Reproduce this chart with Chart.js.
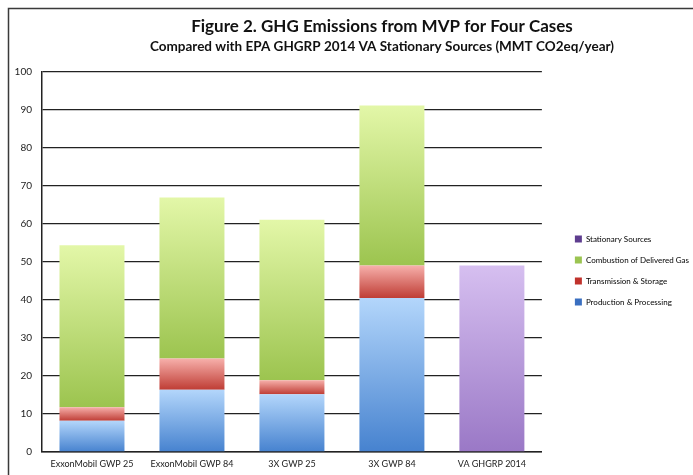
<!DOCTYPE html>
<html>
<head>
<meta charset="utf-8">
<script src="https://cdn.jsdelivr.net/npm/chart.js@4.4.1/dist/chart.umd.min.js"></script>
<style>
  html, body { margin: 0; padding: 0; background: #fff; }
  #wrap { width: 693px; height: 475px; position: relative; }
</style>
</head>
<body>
<div id="wrap"><canvas id="ghgChart"></canvas></div>
<script>
// Chart data
const cases = ['ExxonMobil GWP 25', 'ExxonMobil GWP 84', '3X GWP 25', '3X GWP 84', 'VA GHGRP 2014'];
const production = [8.2, 16.4, 15.2, 40.5, null];
const transmission = [3.6, 8.2, 3.7, 8.6, null];
const combustion = [42.6, 42.4, 42.2, 42.1, null];
const stationary = [null, null, null, null, 49.1];
const yTicks = [0, 10, 20, 30, 40, 50, 60, 70, 80, 90, 100];

// Gradient stops per series: light top, darker bottom
const shades = {
  production: ['#b3d6fb', '#4682cf'],
  transmission: ['#f7b0ab', '#bf3d35'],
  combustion: ['#e3f7a8', '#9cc44f'],
  stationary: ['#d6bff0', '#9a78c6']
};
const legendColors = ['#3a6fc0', '#c0322c', '#9bc451', '#5e3d8f'];
const seriesList = [production, transmission, combustion, stationary];

function gradientFor(key, seriesIdx) {
  return function(ctx) {
    const chart = ctx.chart;
    const yScale = chart.scales.y;
    if (ctx.type !== 'data' || !chart.chartArea || !yScale) return shades[key][1];
    let base = 0;
    for (let i = 0; i < seriesIdx; i++) base += seriesList[i][ctx.dataIndex] || 0;
    const top = base + (ctx.raw || 0);
    const yTop = yScale.getPixelForValue(top);
    const yBot = yScale.getPixelForValue(base);
    if (!isFinite(yTop) || !isFinite(yBot) || yTop === yBot) return shades[key][1];
    const g = chart.ctx.createLinearGradient(0, yTop, 0, yBot);
    g.addColorStop(0, shades[key][0]);
    g.addColorStop(1, shades[key][1]);
    return g;
  };
}

// Frame and headings drawn on the canvas
const framePlugin = {
  id: 'frame',
  afterLayout(chart) {
    // nudge the legend to the right, as in the original
    const lg = chart.legend;
    if (lg) {
      lg.left += 20; lg.right += 20;
      lg.top -= 1; lg.bottom -= 1;
    }
  },
  beforeDraw(chart) {
    const c = chart.ctx;
    c.save();
    c.fillStyle = '#fff';
    c.fillRect(0, 0, chart.width, chart.height);
    c.strokeStyle = '#3a3a3a';
    c.lineWidth = 1.5;
    c.beginPath();
    c.moveTo(8.5, chart.height);
    c.lineTo(8.5, 8.5);
    c.lineTo(chart.width, 8.5);
    c.stroke();
    c.fillStyle = '#111';
    c.textAlign = 'center';
    c.textBaseline = 'middle';
    c.font = 'bold 17px Lato';
    c.fillText('Figure 2. GHG Emissions from MVP for Four Cases', 382, 27);
    c.font = 'bold 13.5px Lato';
    c.fillText('Compared with EPA GHGRP 2014 VA Stationary Sources (MMT CO2eq/year)', 382, 47);
    c.restore();
  }
};

const ctx = document.getElementById('ghgChart').getContext('2d');
new Chart(ctx, {
  type: 'bar',
  data: {
    labels: cases,
    datasets: [
      { label: 'Production & Processing', data: production, backgroundColor: gradientFor('production', 0) },
      { label: 'Transmission & Storage', data: transmission, backgroundColor: gradientFor('transmission', 1) },
      { label: 'Combustion of Delivered Gas', data: combustion, backgroundColor: gradientFor('combustion', 2) },
      { label: 'Stationary Sources', data: stationary, backgroundColor: gradientFor('stationary', 3) }
    ]
  },
  options: {
    responsive: true,
    maintainAspectRatio: false,
    animation: false,
    barPercentage: 0.65,
    categoryPercentage: 1,
    layout: { padding: { top: 72, left: 0, right: 14, bottom: 4 } },
    plugins: {
      title: { display: false },
      tooltip: { enabled: false },
      legend: {
        position: 'right',
        align: 'center',
        reverse: true,
        labels: {
          boxWidth: 7,
          boxHeight: 7,
          padding: 13,
          color: '#222',
          font: { family: 'Lato', size: 8 },
          generateLabels(chart) {
            return chart.data.datasets.map((ds, i) => ({
              text: ds.label,
              fillStyle: legendColors[i],
              strokeStyle: legendColors[i],
              lineWidth: 0,
              hidden: false,
              datasetIndex: i
            }));
          }
        }
      }
    },
    scales: {
      x: {
        stacked: true,
        afterFit(scale) { scale.height = 19; },
        grid: { display: false, drawTicks: false },
        border: { color: '#222', width: 1.5 },
        ticks: { color: '#222', padding: 7, maxRotation: 0, font: { family: 'Lato', size: 9 } }
      },
      y: {
        stacked: true,
        min: 0,
        max: 100,
        afterBuildTicks(scale) { scale.ticks = yTicks.map(v => ({ value: v })); },
        afterFit(scale) { scale.width = 42; },
        grid: { color: '#222', lineWidth: 1.3, drawTicks: false },
        border: { color: '#222', width: 1.5 },
        ticks: { color: '#222', padding: 10, font: { family: 'Lato', size: 10 } }
      }
    }
  },
  plugins: [framePlugin]
});
</script>
</body>
</html>
